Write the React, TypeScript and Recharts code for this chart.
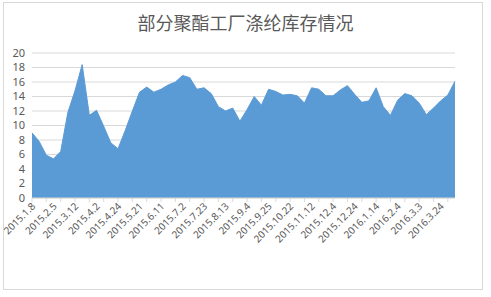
import React from 'react';
import { AreaChart, Area, XAxis, YAxis, CartesianGrid } from 'recharts';

// weekly dates, a label is shown every 3rd week
const dates = [
  '2015.1.8', '2015.1.15', '2015.1.22', '2015.2.5', '2015.2.12', '2015.3.5',
  '2015.3.12', '2015.3.19', '2015.3.26', '2015.4.2', '2015.4.9', '2015.4.16',
  '2015.4.24', '2015.5.7', '2015.5.14', '2015.5.21', '2015.5.28', '2015.6.4',
  '2015.6.11', '2015.6.18', '2015.6.25', '2015.7.2', '2015.7.9', '2015.7.16',
  '2015.7.23', '2015.7.30', '2015.8.6', '2015.8.13', '2015.8.20', '2015.8.27',
  '2015.9.4', '2015.9.11', '2015.9.18', '2015.9.25', '2015.10.9', '2015.10.15',
  '2015.10.22', '2015.10.29', '2015.11.5', '2015.11.12', '2015.11.19', '2015.11.26',
  '2015.12.4', '2015.12.10', '2015.12.17', '2015.12.24', '2015.12.31', '2016.1.7',
  '2016.1.14', '2016.1.21', '2016.1.28', '2016.2.4', '2016.2.18', '2016.2.25',
  '2016.3.3', '2016.3.10', '2016.3.17', '2016.3.24', '2016.3.31', '2016.4.7',
];

const stock = [
  9.0, 7.8, 5.9, 5.4, 6.4, 11.8, 14.8, 18.4, 11.4, 12.1,
  9.9, 7.6, 6.8, 9.3, 12.0, 14.6, 15.3, 14.6, 15.0, 15.6,
  16.0, 16.9, 16.6, 15.0, 15.2, 14.4, 12.6, 12.0, 12.4, 10.6,
  12.2, 14.0, 12.8, 15.0, 14.7, 14.2, 14.3, 14.1, 13.1, 15.2,
  15.0, 14.1, 14.1, 14.9, 15.5, 14.3, 13.2, 13.4, 15.2, 12.6,
  11.4, 13.5, 14.4, 14.1, 13.1, 11.5, 12.4, 13.4, 14.2, 16.1,
];

const yTicks = [0, 2, 4, 6, 8, 10, 12, 14, 16, 18, 20];

const data = dates.map((date, i) => ({ date, stock: stock[i] }));

const textColor = '#595959';
const gridColor = '#d9d9d9';

const DateTick = (props: any) => {
  const { x, y, payload } = props;
  const i = payload.index;
  return (
    <g>
      {i % 2 === 0 && <line x1={x} y1={y} x2={x} y2={y + 4} stroke={gridColor} />}
      {i % 3 === 0 && (
        <text
          x={x + 4}
          y={y + 9}
          textAnchor="end"
          fontSize={10}
          fill={textColor}
          fontFamily="Noto Sans, sans-serif"
          transform={`rotate(-45, ${x + 4}, ${y + 9})`}
        >
          {payload.value}
        </text>
      )}
    </g>
  );
};

export default function App() {
  return (
    <div style={{ position: 'absolute', left: 0, top: 0, width: 491, height: 297, background: '#fff' }}>
      <div
        style={{
          position: 'absolute',
          left: 3,
          top: 2,
          width: 480,
          height: 288,
          border: `1px solid ${gridColor}`,
          boxSizing: 'border-box',
        }}
      />
      <div
        style={{
          position: 'absolute',
          left: 0,
          top: 9,
          width: 491,
          textAlign: 'center',
          fontSize: 18,
          color: textColor,
          fontFamily: '"Noto Sans CJK SC", sans-serif',
          lineHeight: '26px',
        }}
      >
        部分聚酯工厂涤纶库存情况
      </div>
      <AreaChart
        width={491}
        height={297}
        data={data}
        margin={{ top: 53, right: 36, left: 0, bottom: 69 }}
        style={{ position: 'absolute', left: 0, top: 0 }}
      >
        <CartesianGrid vertical={false} stroke={gridColor} />
        <XAxis
          dataKey="date"
          interval={0}
          tickLine={false}
          tickSize={0}
          tickMargin={0}
          axisLine={{ stroke: gridColor }}
          tick={<DateTick />}
        />
        <YAxis
          width={32}
          domain={[0, 20]}
          ticks={yTicks}
          interval={0}
          axisLine={false}
          tickLine={false}
          tickSize={0}
          tickMargin={7}
          tick={{ fill: textColor, fontSize: 11, fontFamily: 'Noto Sans, sans-serif' }}
        />
        <Area
          type="linear"
          dataKey="stock"
          stroke="#5b9bd5"
          fill="#5b9bd5"
          fillOpacity={1}
          isAnimationActive={false}
        />
      </AreaChart>
    </div>
  );
}
